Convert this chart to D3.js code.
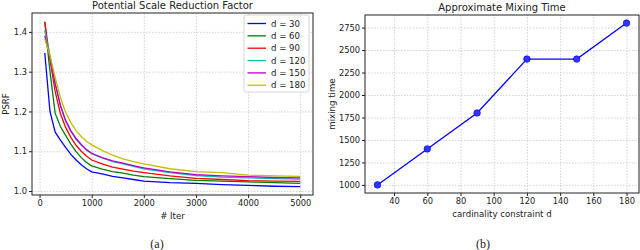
<!DOCTYPE html>
<html>
<head>
<meta charset="utf-8">
<script src="https://d3js.org/d3.v7.min.js"></script>
<style>
  body { margin: 0; background: #fff; }
  .axis text { font-family: "DejaVu Sans", sans-serif; font-size: 8.3px; fill: #222; }
  .axis path, .axis line { stroke: #222; }
  .grid line { stroke: #c8c8c8; stroke-dasharray: 1.5,1.5; stroke-width: 0.8; }
  .grid path { display: none; }
  .text { font-family: "DejaVu Sans", sans-serif; font-size: 8.6px; fill: #222; }
  .title { font-family: "DejaVu Sans", sans-serif; font-size: 10px; fill: #222; }
  .cap { font-family: "Liberation Serif", serif; font-size: 12px; fill: #222; }
</style>
</head>
<body>
<div id="chart"></div>
<script>
// ---- data ----
var iters = [100, 200, 300, 400, 500, 600, 700, 800, 900, 1000, 1200, 1400, 1600, 1800, 2000, 2500, 3000, 3500, 4000, 4500, 5000];
var psrf30  = [1.347, 1.20, 1.148, 1.128, 1.110, 1.092, 1.078, 1.066, 1.056, 1.048, 1.043, 1.037, 1.033, 1.029, 1.025, 1.021, 1.019, 1.016, 1.014, 1.012, 1.011];
var psrf60  = [1.425, 1.30, 1.195, 1.162, 1.140, 1.118, 1.099, 1.084, 1.072, 1.063, 1.055, 1.049, 1.045, 1.040, 1.036, 1.031, 1.027, 1.025, 1.023, 1.021, 1.019];
var psrf90  = [1.426, 1.33, 1.250, 1.195, 1.160, 1.135, 1.115, 1.100, 1.088, 1.078, 1.068, 1.060, 1.055, 1.050, 1.046, 1.038, 1.032, 1.029, 1.026, 1.025, 1.024];
var psrf120 = [1.404, 1.34, 1.270, 1.215, 1.175, 1.150, 1.130, 1.115, 1.103, 1.094, 1.083, 1.074, 1.068, 1.062, 1.056, 1.046, 1.039, 1.035, 1.033, 1.031, 1.030];
var psrf150 = [1.390, 1.335, 1.270, 1.215, 1.178, 1.152, 1.132, 1.117, 1.104, 1.095, 1.084, 1.076, 1.070, 1.064, 1.058, 1.048, 1.041, 1.038, 1.036, 1.034, 1.033];
var psrf180 = [1.382, 1.34, 1.285, 1.235, 1.198, 1.172, 1.152, 1.137, 1.125, 1.116, 1.102, 1.090, 1.081, 1.074, 1.068, 1.056, 1.049, 1.046, 1.040, 1.038, 1.037];
var seriesNames = ["d = 30", "d = 60", "d = 90", "d = 120", "d = 150", "d = 180"];
var seriesColors = ["#0000ff", "#008000", "#ff0000", "#00bfbf", "#bf00bf", "#bfbf00"];

var dValues = [30, 60, 90, 120, 150, 180];
var mixTime = [1000, 1400, 1800, 2400, 2400, 2800];

var psrfXTicks = [0, 1000, 2000, 3000, 4000, 5000];
var psrfYTicks = [1.0, 1.1, 1.2, 1.3, 1.4];
var mixXTicks = [40, 60, 80, 100, 120, 140, 160, 180];
var mixYTicks = [1000, 1250, 1500, 1750, 2000, 2250, 2500, 2750];

var svg = d3.select("#chart")
  .append("svg")
    .attr("width", 640)
    .attr("height", 250);

// ---------------------------//
//      LEFT: PSRF            //
// ---------------------------//
var L = {x0: 32, x1: 313, y0: 13, y1: 195};

var x1 = d3.scaleLinear().domain([-145, 5245]).range([L.x0, L.x1]);
var y1 = d3.scaleLinear().domain([0.99, 1.4475]).range([L.y1, L.y0]);

// grid
svg.append("g")
  .attr("class", "grid")
  .attr("transform", "translate(0," + L.y1 + ")")
  .call(d3.axisBottom(x1).tickValues(psrfXTicks).tickSize(-(L.y1 - L.y0)).tickFormat(""));
svg.append("g")
  .attr("class", "grid")
  .attr("transform", "translate(" + L.x0 + ",0)")
  .call(d3.axisLeft(y1).tickValues(psrfYTicks).tickSize(-(L.x1 - L.x0)).tickFormat(""));

// lines
var psrfAll = [psrf30, psrf60, psrf90, psrf120, psrf150, psrf180];
var line1 = d3.line()
  .x(function(d, i) { return x1(iters[i]); })
  .y(function(d) { return y1(d); });

svg.append("g")
  .selectAll("path")
  .data(psrfAll)
  .enter()
  .append("path")
    .attr("d", line1)
    .attr("fill", "none")
    .attr("stroke", function(d, i) { return seriesColors[i]; })
    .attr("stroke-width", 1.3);

// axes
svg.append("g")
  .attr("class", "axis")
  .attr("transform", "translate(0," + L.y1 + ")")
  .call(d3.axisBottom(x1).tickValues(psrfXTicks).tickSize(3).tickPadding(2).tickFormat(d3.format("d")))
  .select(".domain").remove();
svg.append("g")
  .attr("class", "axis")
  .attr("transform", "translate(" + L.x0 + ",0)")
  .call(d3.axisLeft(y1).tickValues(psrfYTicks).tickSize(3).tickPadding(2).tickFormat(d3.format(".1f")))
  .select(".domain").remove();

svg.append("rect")
  .attr("x", L.x0).attr("y", L.y0)
  .attr("width", L.x1 - L.x0).attr("height", L.y1 - L.y0)
  .attr("fill", "none").attr("stroke", "#222").attr("stroke-width", 1);

// legend
var lg = svg.append("g").attr("transform", "translate(244,15)");
lg.append("rect")
  .attr("width", 65).attr("height", 77)
  .attr("rx", 2)
  .attr("fill", "white").attr("fill-opacity", 0.85)
  .attr("stroke", "#ccc").attr("stroke-width", 0.8);
lg.selectAll("line")
  .data(seriesNames)
  .enter()
  .append("line")
    .attr("x1", 3.5).attr("x2", 22)
    .attr("y1", function(d, i) { return 8.5 + i * 12.35; })
    .attr("y2", function(d, i) { return 8.5 + i * 12.35; })
    .attr("stroke", function(d, i) { return seriesColors[i]; })
    .attr("stroke-width", 1.3);
lg.selectAll("text")
  .data(seriesNames)
  .enter()
  .append("text")
    .attr("class", "text")
    .attr("x", 27)
    .attr("y", function(d, i) { return 8.5 + i * 12.35; })
    .attr("dy", "0.35em")
    .text(function(d) { return d; });

// titles
svg.append("text").attr("class", "title")
  .attr("x", (L.x0 + L.x1) / 2).attr("y", 9)
  .attr("text-anchor", "middle")
  .text("Potential Scale Reduction Factor");
svg.append("text").attr("class", "text")
  .attr("x", (L.x0 + L.x1) / 2).attr("y", 219)
  .attr("text-anchor", "middle")
  .text("# Iter");
svg.append("text").attr("class", "text")
  .attr("transform", "translate(9," + (L.y0 + L.y1) / 2 + ") rotate(-90)")
  .attr("text-anchor", "middle")
  .text("PSRF");
svg.append("text").attr("class", "cap")
  .attr("x", 157).attr("y", 248)
  .attr("text-anchor", "middle")
  .text("(a)");

// ---------------------------//
//      RIGHT: MIXING TIME    //
// ---------------------------//
var R = {x0: 365, x1: 639, y0: 15, y1: 193};

var x2 = d3.scaleLinear().domain([22.5, 187.5]).range([R.x0, R.x1]);
var y2 = d3.scaleLinear().domain([910, 2890]).range([R.y1, R.y0]);

svg.append("g")
  .attr("class", "grid")
  .attr("transform", "translate(0," + R.y1 + ")")
  .call(d3.axisBottom(x2).tickValues(mixXTicks).tickSize(-(R.y1 - R.y0)).tickFormat(""));
svg.append("g")
  .attr("class", "grid")
  .attr("transform", "translate(" + R.x0 + ",0)")
  .call(d3.axisLeft(y2).tickValues(mixYTicks).tickSize(-(R.x1 - R.x0)).tickFormat(""));

var line2 = d3.line()
  .x(function(d, i) { return x2(dValues[i]); })
  .y(function(d) { return y2(d); });

svg.append("path")
  .datum(mixTime)
  .attr("d", line2)
  .attr("fill", "none")
  .attr("stroke", "#0000ff")
  .attr("stroke-width", 1.3);

svg.append("g")
  .selectAll("circle")
  .data(mixTime)
  .enter()
  .append("circle")
    .attr("cx", function(d, i) { return x2(dValues[i]); })
    .attr("cy", function(d) { return y2(d); })
    .attr("r", 3.3)
    .attr("fill", "#3333ff")
    .attr("stroke", "#0000ff")
    .attr("stroke-width", 0.6);

svg.append("g")
  .attr("class", "axis")
  .attr("transform", "translate(0," + R.y1 + ")")
  .call(d3.axisBottom(x2).tickValues(mixXTicks).tickSize(3).tickPadding(2).tickFormat(d3.format("d")))
  .select(".domain").remove();
svg.append("g")
  .attr("class", "axis")
  .attr("transform", "translate(" + R.x0 + ",0)")
  .call(d3.axisLeft(y2).tickValues(mixYTicks).tickSize(3).tickPadding(2).tickFormat(d3.format("d")))
  .select(".domain").remove();

svg.append("rect")
  .attr("x", R.x0).attr("y", R.y0)
  .attr("width", R.x1 - R.x0).attr("height", R.y1 - R.y0)
  .attr("fill", "none").attr("stroke", "#222").attr("stroke-width", 1);

svg.append("text").attr("class", "title")
  .attr("x", 502).attr("y", 10.5)
  .attr("text-anchor", "middle")
  .text("Approximate Mixing Time");
svg.append("text").attr("class", "text")
  .attr("x", 502).attr("y", 217)
  .attr("text-anchor", "middle")
  .text("cardinality constraint d");
svg.append("text").attr("class", "text")
  .attr("transform", "translate(335," + (R.y0 + R.y1) / 2 + ") rotate(-90)")
  .attr("text-anchor", "middle")
  .text("mixing time");
svg.append("text").attr("class", "cap")
  .attr("x", 483).attr("y", 248)
  .attr("text-anchor", "middle")
  .text("(b)");
</script>
</body>
</html>
